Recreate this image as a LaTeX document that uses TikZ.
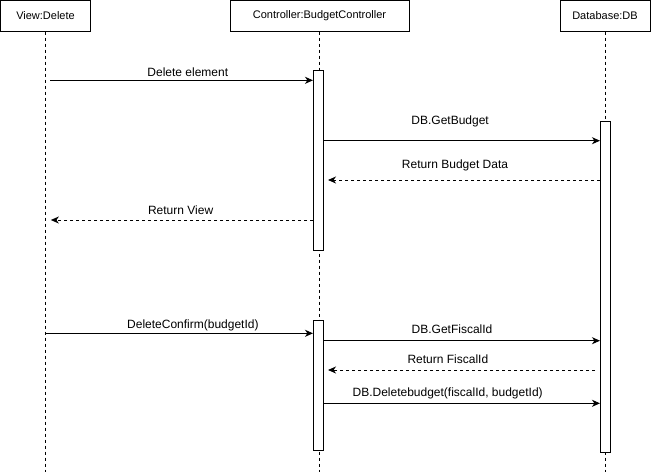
\documentclass[tikz,border=0pt]{standalone}
\usepackage{fontspec}
\setmainfont{Liberation Sans}
\usetikzlibrary{arrows.meta}
\begin{document}
\begin{tikzpicture}[x=0.75pt,y=-0.75pt,
  line width=0.75pt,
  headbox/.style={draw, fill=white, inner sep=0pt, minimum height=23.25pt, font=\fontsize{8.25}{10}\selectfont},
  lifeline/.style={dash pattern=on 2.25pt off 2.25pt},
  actbar/.style={draw, fill=white, inner sep=0pt, minimum width=7.5pt, anchor=north},
  callmsg/.style={-{Stealth[length=6pt,width=5.25pt,inset=1.8pt]}},
  retmsg/.style={-{Stealth[length=6pt,width=5.25pt,inset=1.8pt]}, dash pattern=on 2.25pt off 2.25pt},
  msglabel/.style={inner sep=0pt, anchor=base, font=\fontsize{9}{11}\selectfont}
]
\useasboundingbox (0,0) rectangle (651,472);
% heads
\node[headbox, minimum width=67.5pt] (view) at (45.5,15.5) {View:Delete};
\node[headbox, minimum width=134.25pt] (ctrl) at (319.5,15.5) {Controller:BudgetController};
\node[headbox, minimum width=67.5pt] (db) at (605,15.5) {Database:DB};
% lifelines
\coordinate (viewend) at (45.5,472);
\coordinate (ctrlend) at (319.5,472);
\coordinate (dbend) at (605,472);
\draw[lifeline] (view.south) -- (viewend);
\draw[lifeline] (ctrl.south) -- (ctrlend);
\draw[lifeline] (db.south) -- (dbend);
% activation bars
\node[actbar, minimum height=135pt] (act1) at (318.5,70) {};
\node[actbar, minimum height=248.25pt] (actdb) at (605.5,120.5) {};
\node[actbar, minimum height=97.5pt] (act2) at (318.5,320) {};
% messages
\coordinate (m1s) at (50,80.3);
\draw[callmsg] (m1s) -- (act1.west |- m1s) node[msglabel, pos=0.524, yshift=2.5pt] {Delete element};
\coordinate (m2s) at (323,140.7);
\draw[callmsg] (act1.east |- m2s) -- (actdb.west |- m2s) node[msglabel, pos=0.457, yshift=12.5pt] {DB.GetBudget};
\coordinate (m3s) at (600,180);
\draw[retmsg] (actdb.west |- m3s) -- ([xshift=3pt]act1.east |- m3s) node[msglabel, pos=0.533, yshift=8.8pt] {Return Budget Data};
\coordinate (m4s) at (313,220);
\draw[retmsg] (act1.west |- m4s) -- ([xshift=4pt]view.south |- m4s) node[msglabel, pos=0.505, yshift=4.5pt] {Return View};
\coordinate (m5s) at (45.5,333.3);
\draw[callmsg] (view.south |- m5s) -- (act2.west |- m5s) node[msglabel, pos=0.551, yshift=3.75pt] {DeleteConfirm(budgetId)};
\coordinate (m6s) at (323,340.7);
\draw[callmsg] (act2.east |- m6s) -- (actdb.west |- m6s) node[msglabel, pos=0.464, yshift=5.5pt] {DB.GetFiscalId};
\coordinate (m7s) at (595,370);
\draw[retmsg] (m7s) -- ([xshift=3pt]act2.east |- m7s) node[msglabel, pos=0.551, yshift=5pt] {Return FiscalId};
\coordinate (m8s) at (323,403.3);
\draw[callmsg] (act2.east |- m8s) -- (actdb.west |- m8s) node[msglabel, pos=0.448, yshift=5pt] {DB.Deletebudget(fiscalId, budgetId)};
\end{tikzpicture}
\end{document}
